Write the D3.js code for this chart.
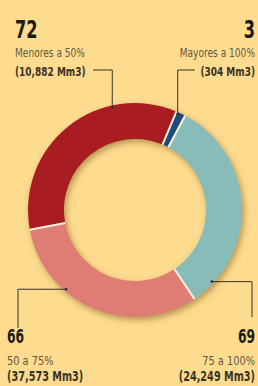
<!DOCTYPE html>
<html>
<head>
<meta charset="utf-8">
<script src="https://cdn.jsdelivr.net/npm/d3@7"></script>
<style>
  html, body { margin: 0; padding: 0; background: #fddb8f; }
  svg { display: block; }
  text { font-family: "DejaVu Sans Condensed", "Liberation Sans", sans-serif; }
</style>
</head>
<body>
<svg class="chart"></svg>
<script>
const WIDTH = 258;
const HEIGHT = 386;
const CENTER = { x: 135, y: 210 };
const OUTER = 107;
const INNER = 71;

// data
const categories = ['Menores a 50%', 'Mayores a 100%', '75 a 100%', '50 a 75%'];
const counts = [72, 3, 69, 66];
const volumes = ['10,882 Mm3', '304 Mm3', '24,249 Mm3', '37,573 Mm3'];
const colors = ['#a81f23', '#1f4c7c', '#87bcb8', '#df7c73'];

// label layout: where each leader touches the ring (degrees), elbow, text anchor
const labels = [
  { i: 0, angle: -12.5, elbowY: 70, endX: 93, textX: 15, anchor: 'start', top: true },
  { i: 1, angle: 24, elbowY: 70, endX: 195, textX: 255, anchor: 'end', top: true },
  { i: 2, angle: 133, elbowX: 252, endY: 317, textX: 255, anchor: 'end', top: false },
  { i: 3, angle: -139, elbowX: 18, endY: 328, textX: 7, anchor: 'start', top: false },
];

const svg = d3.select('svg.chart')
  .attr('width', WIDTH)
  .attr('height', HEIGHT);

const defs = svg.append('defs');
defs.append('filter')
  .attr('id', 'shadow')
  .attr('x', '-20%').attr('y', '-20%')
  .attr('width', '140%').attr('height', '140%')
.append('feDropShadow')
  .attr('dx', 2).attr('dy', 3)
  .attr('stdDeviation', 3)
  .attr('flood-color', '#6e5008')
  .attr('flood-opacity', 0.5);

const pie = d3.pie()
  .sort(null)
  .value(d => d)
  .startAngle(-100.6 * Math.PI / 180)
  .endAngle(259.4 * Math.PI / 180);

const arc = d3.arc().innerRadius(INNER).outerRadius(OUTER);
const arcs = pie(counts);

const donut = svg.append('g')
  .attr('transform', `translate(${CENTER.x},${CENTER.y})`);

const ring = donut.append('g').attr('filter', 'url(#shadow)');

ring.selectAll('path.slice')
  .data(arcs)
.enter()
  .append('path')
  .attr('class', 'slice')
  .attr('d', arc)
  .attr('fill', (d, i) => colors[i]);

// cream separators between slices
donut.selectAll('line.sep')
  .data(arcs)
.enter()
  .append('line')
  .attr('class', 'sep')
  .attr('x1', d => Math.sin(d.startAngle) * INNER)
  .attr('y1', d => -Math.cos(d.startAngle) * INNER)
  .attr('x2', d => Math.sin(d.startAngle) * OUTER)
  .attr('y2', d => -Math.cos(d.startAngle) * OUTER)
  .attr('stroke', '#fff3de')
  .attr('stroke-width', 2);

// leaders
const ringPoint = a => {
  const r = a * Math.PI / 180;
  return [CENTER.x + Math.sin(r) * 105, CENTER.y - Math.cos(r) * 105];
};

const leaders = svg.append('g')
  .attr('fill', 'none')
  .attr('stroke', '#3a3326')
  .attr('stroke-width', 1);

labels.forEach(l => {
  const [px, py] = ringPoint(l.angle);
  let pts;
  if (l.top) {
    pts = [[l.endX, l.elbowY], [px, l.elbowY], [px, py]];
  } else {
    pts = [[px, py], [l.elbowX, py], [l.elbowX, l.endY]];
  }
  leaders.append('path').attr('d', d3.line()(pts));
  svg.append('circle')
    .attr('cx', px).attr('cy', py).attr('r', 1.3)
    .attr('fill', '#3a3326');
});

// texts, squeezed horizontally to look like the condensed face of the original
labels.forEach(l => {
  const base = l.top ? [38, 57, 76] : [343, 365, 381];
  const sizes = l.top ? [25, 12, 12.5] : [19, 13, 13.5];
  const squeeze = [0.72, 0.84, 0.8];
  const rows = [
    { text: counts[l.i], weight: 'bold', fill: '#1e1a14' },
    { text: categories[l.i], weight: 'normal', fill: '#65583f' },
    { text: `(${volumes[l.i]})`, weight: 'bold', fill: '#3a3326' },
  ];
  rows.forEach((r, k) => {
    svg.append('text')
      .attr('transform', `translate(${l.textX},${base[k]}) scale(${squeeze[k]},1)`)
      .attr('text-anchor', l.anchor)
      .attr('font-size', sizes[k])
      .attr('font-weight', r.weight)
      .attr('fill', r.fill)
      .text(r.text);
  });
});
</script>
</body>
</html>
